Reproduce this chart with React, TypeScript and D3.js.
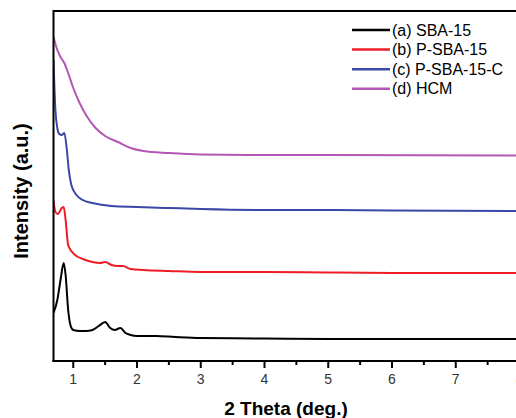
import React from "react";
import * as d3 from "d3";

// 2θ (deg.) positions and intensities (a.u., offset stacked)
const sba15: [number, number][] = [
  [0.69, 48], [0.75, 61], [0.8, 81], [0.85, 98], [0.88, 86], [0.92, 51], [0.96, 35],
  [1.0, 31], [1.1, 30], [1.2, 30], [1.3, 31], [1.4, 35], [1.5, 39], [1.58, 33],
  [1.65, 31], [1.74, 33], [1.82, 28], [1.9, 26], [2.0, 25], [2.3, 25], [2.6, 24],
  [3.0, 23], [4.0, 22.5], [5.0, 22], [6.0, 22], [7.0, 22], [8.2, 22],
];
const pSba15: [number, number][] = [
  [0.69, 161], [0.72, 149], [0.76, 147], [0.82, 153], [0.85, 154], [0.88, 141],
  [0.92, 116], [0.97, 110], [1.05, 105], [1.15, 102], [1.3, 99], [1.42, 98],
  [1.5, 99], [1.6, 96], [1.7, 95], [1.78, 95], [1.9, 92], [2.1, 91], [2.5, 90],
  [3.0, 89], [4.0, 89], [5.0, 88.5], [6.0, 88], [8.2, 88],
];
const pSba15C: [number, number][] = [
  [0.69, 301], [0.72, 251], [0.75, 233], [0.78, 227], [0.82, 226], [0.86, 228],
  [0.9, 211], [0.93, 191], [0.97, 176], [1.05, 166], [1.15, 161], [1.3, 158],
  [1.6, 155], [2.0, 154], [2.5, 153], [3.0, 152], [4.0, 151], [5.0, 151],
  [6.0, 150.5], [8.2, 150],
];
const hcm: [number, number][] = [
  [0.69, 324], [0.75, 311], [0.8, 304], [0.86, 298], [0.92, 288], [1.0, 273],
  [1.1, 258], [1.2, 246], [1.35, 233], [1.5, 225], [1.7, 219], [1.9, 213],
  [2.1, 210], [2.5, 208], [3.0, 206.5], [4.0, 206], [5.0, 206], [8.2, 205.5],
];

const seriesNames = ["(a) SBA-15", "(b) P-SBA-15", "(c) P-SBA-15-C", "(d) HCM"];
const seriesData = [sba15, pSba15, pSba15C, hcm];
const seriesColors = ["#000000", "#ee1c24", "#3a48a6", "#b456b4"];
const xTicks = [1, 2, 3, 4, 5, 6, 7, 8];
const xMinorTicks = [1.5, 2.5, 3.5, 4.5, 5.5, 6.5, 7.5];

export default function App() {
  const W = 516, H = 418;
  const left = 53.5, bottom = 361, top = 11;
  const x = d3.scaleLinear().domain([0.69, 8]).range([left, 519.5]);
  const y = d3.scaleLinear().domain([0, 350]).range([bottom, top]);
  const line = d3
    .line<[number, number]>()
    .x((d) => x(d[0]))
    .y((d) => y(d[1]))
    .curve(d3.curveMonotoneX);

  return (
    <svg
      width={W}
      height={H}
      style={{ position: "absolute", left: 0, top: 0, background: "#fff" }}
      fontFamily="'Liberation Sans', Arial, sans-serif"
    >
      <defs>
        <clipPath id="plot">
          <rect x={left} y={top} width={W - left} height={bottom - top} />
        </clipPath>
      </defs>
      <g clipPath="url(#plot)">
        {seriesData.map((d, i) => (
          <path key={i} d={line(d) || ""} fill="none" stroke={seriesColors[i]} strokeWidth={2} />
        ))}
      </g>
      {/* frame */}
      <line x1={left} x2={W} y1={top} y2={top} stroke="#000" strokeWidth={2} />
      <line x1={left} x2={left} y1={top - 1} y2={bottom + 1} stroke="#000" strokeWidth={2} />
      <line x1={left - 1} x2={W} y1={bottom} y2={bottom} stroke="#000" strokeWidth={2} />
      {xTicks.map((t) => (
        <g key={t}>
          <line x1={x(t)} x2={x(t)} y1={bottom} y2={bottom + 7} stroke="#000" strokeWidth={2} />
          <text x={x(t)} y={384} textAnchor="middle" fontSize={14} fill="#333">
            {t}
          </text>
        </g>
      ))}
      {xMinorTicks.map((t) => (
        <line key={t} x1={x(t)} x2={x(t)} y1={bottom} y2={bottom + 4} stroke="#000" strokeWidth={2} />
      ))}
      <text x={286} y={415} textAnchor="middle" fontSize={19} fontWeight="bold" fill="#000">
        2 Theta (deg.)
      </text>
      <text
        transform="translate(28,191) rotate(-90)"
        textAnchor="middle"
        fontSize={20}
        fontWeight="bold"
        fill="#000"
      >
        Intensity (a.u.)
      </text>
      {seriesNames.map((n, i) => (
        <g key={n} transform={`translate(0,${30 + i * 19.6})`}>
          <line x1={352} x2={390} y1={0} y2={0} stroke={seriesColors[i]} strokeWidth={2.5} />
          <text x={392} y={5.5} fontSize={16} fill="#000">
            {n}
          </text>
        </g>
      ))}
    </svg>
  );
}
